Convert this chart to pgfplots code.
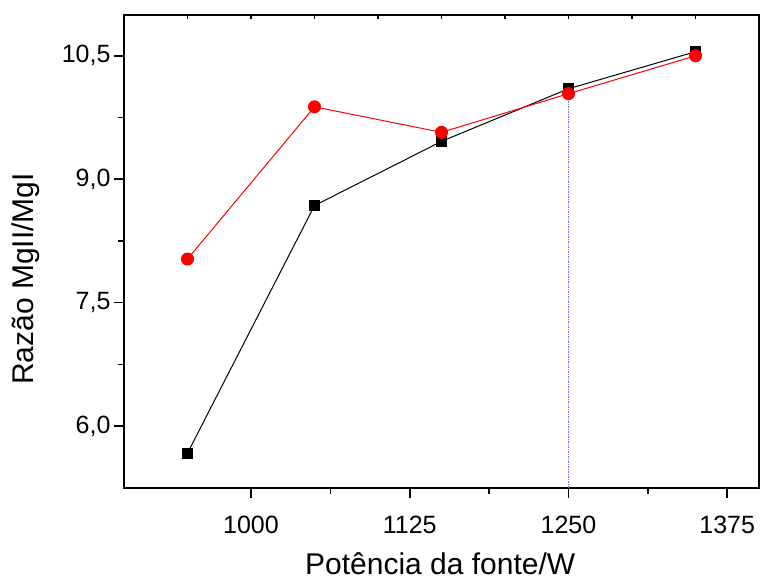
\documentclass[border=0pt]{standalone}
\usepackage{fontspec}
\setmainfont{Liberation Sans}
\usepackage{pgfplots}
\pgfplotsset{compat=1.18}
\definecolor{dotblue}{RGB}{110,110,255}
\begin{document}
\begin{tikzpicture}
\begin{axis}[
  name=main,
  scale only axis, width=635pt, height=473pt,
  xmin=900, xmax=1400, ymin=5.25, ymax=11,
  axis line style={line width=2pt},
  xtick pos=left, ytick pos=left,
  tick align=outside,
  major tick length=10pt, minor tick length=6pt,
  every tick/.style={line width=1.6pt, black},
  xtick={1000,1125,1250,1375}, minor x tick num=1,
  ytick={6,7.5,9,10.5}, minor y tick num=1,
  ticklabel style={font=\fontsize{25}{30}\selectfont},
  label style={font=\fontsize{30}{36}\selectfont},
  /pgf/number format/assume math mode=true,
  xticklabel style={/pgf/number format/fixed, /pgf/number format/precision=0, /pgf/number format/set thousands separator={}, anchor=base, yshift=-35.6pt},
  yticklabel style={/pgf/number format/fixed, /pgf/number format/fixed zerofill, /pgf/number format/precision=1, /pgf/number format/use comma, anchor=east},
  xlabel={Potência da fonte/W},
  ylabel={Razão MgII/MgI},
  xlabel style={at={(axis description cs:0.498,-0.184)}, anchor=base, inner sep=0pt},
  ylabel style={at={(axis description cs:-0.1433,0.441)}, anchor=base},
  clip=false,
]
\addplot[dotblue, line width=1.1pt, dash pattern=on 1.5pt off 1pt] coordinates {(1250,5.25) (1250,10.10)};
\addplot[black, line width=1pt, mark=square*, mark size=5pt, mark options={solid}] coordinates {
  (950,5.67) (1050,8.68) (1150,9.46) (1250,10.10) (1350,10.55)
};
\addplot[red, line width=1pt, mark=*, mark size=6pt, mark options={solid}] coordinates {
  (950,8.03) (1050,9.88) (1150,9.57) (1250,10.04) (1350,10.50)
};
\end{axis}
\begin{axis}[
  scale only axis, width=635pt, height=473pt,
  xmin=900, xmax=1400, ymin=5.25, ymax=11,
  axis x line*=top, axis y line=none,
  axis line style={draw=none},
  xtick={950,1000,...,1350}, xticklabels={},
  tick align=inside, major tick length=4pt,
  every tick/.style={line width=1.4pt, black},
]
\end{axis}
\pgfresetboundingbox
\path ([xshift=-124pt, yshift=-96pt]main.south west) rectangle ([xshift=2pt, yshift=14.7pt]main.north east);
\end{tikzpicture}
\end{document}
